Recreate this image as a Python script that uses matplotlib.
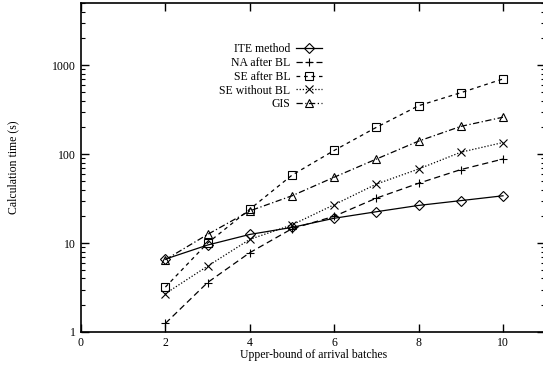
import numpy as np
import matplotlib.pyplot as plt

plt.rcParams['font.family'] = ['Liberation Serif', 'DejaVu Serif']

batches = [2, 3, 4, 5, 6, 7, 8, 9, 10]
ite = [6.6, 9.5, 12.5, 15, 19, 22.5, 26.5, 30, 34]
na_after = [1.25, 3.6, 7.8, 14.5, 20, 32, 47, 67, 88]
se_after = [3.2, 10, 24, 58, 110, 200, 350, 490, 700]
se_without = [2.7, 5.5, 11, 16, 27, 46, 68, 105, 135]
gis = [6.5, 12.5, 23, 34, 55, 88, 140, 205, 260]

fig = plt.figure(figsize=(5.43, 3.72), dpi=100)
ax = fig.add_axes([81 / 543, 40 / 372, 1 - 81 / 543 + 0.004, 329 / 372])

kw = dict(color='black', lw=0.9, mfc='none', mec='black', ms=6, mew=0.8)
ax.plot(batches, ite, linestyle='-', marker='D', label='ITE method', **{**kw, 'ms': 5})
ax.plot(batches, na_after, linestyle=(0, (5, 3)), marker='+', label='NA after BL', **kw)
ax.plot(batches, se_after, linestyle=(0, (3, 3)), marker='s', label='SE after BL', **{**kw, 'ms': 6})
ax.plot(batches, se_without, linestyle=(0, (1, 1.5)), marker='x', label='SE without BL', **kw)
ax.plot(batches, gis, linestyle=(0, (5, 2, 1, 2)), marker='^', label='GIS', **kw)

ax.set_yscale('log')
ax.set_xlim(0, 11)
ax.set_ylim(1, 5000)
ax.set_xticks([0, 2, 4, 6, 8, 10])
ax.set_yticks([1, 10, 100, 1000])
ax.set_yticklabels(['1', '10', '100', '1000'])
ax.tick_params(which='both', direction='in', top=True, right=True, labelsize=8.5)
ax.tick_params(which='major', length=6, width=1.0)
ax.tick_params(which='minor', length=3, width=0.8)
for s in ax.spines.values():
    s.set_linewidth(1.2)

ax.set_xlabel('Upper-bound of arrival batches', fontsize=8.5, labelpad=0)
ax.set_ylabel('Calculation time (s)', fontsize=8.5, labelpad=24)

ax.legend(loc='upper left', bbox_to_anchor=(0.275, 0.91), markerfirst=False,
          frameon=False, fontsize=8.5, handlelength=2.2, labelspacing=0.15,
          handletextpad=0.5)

fig.savefig('out.png', dpi=100)
